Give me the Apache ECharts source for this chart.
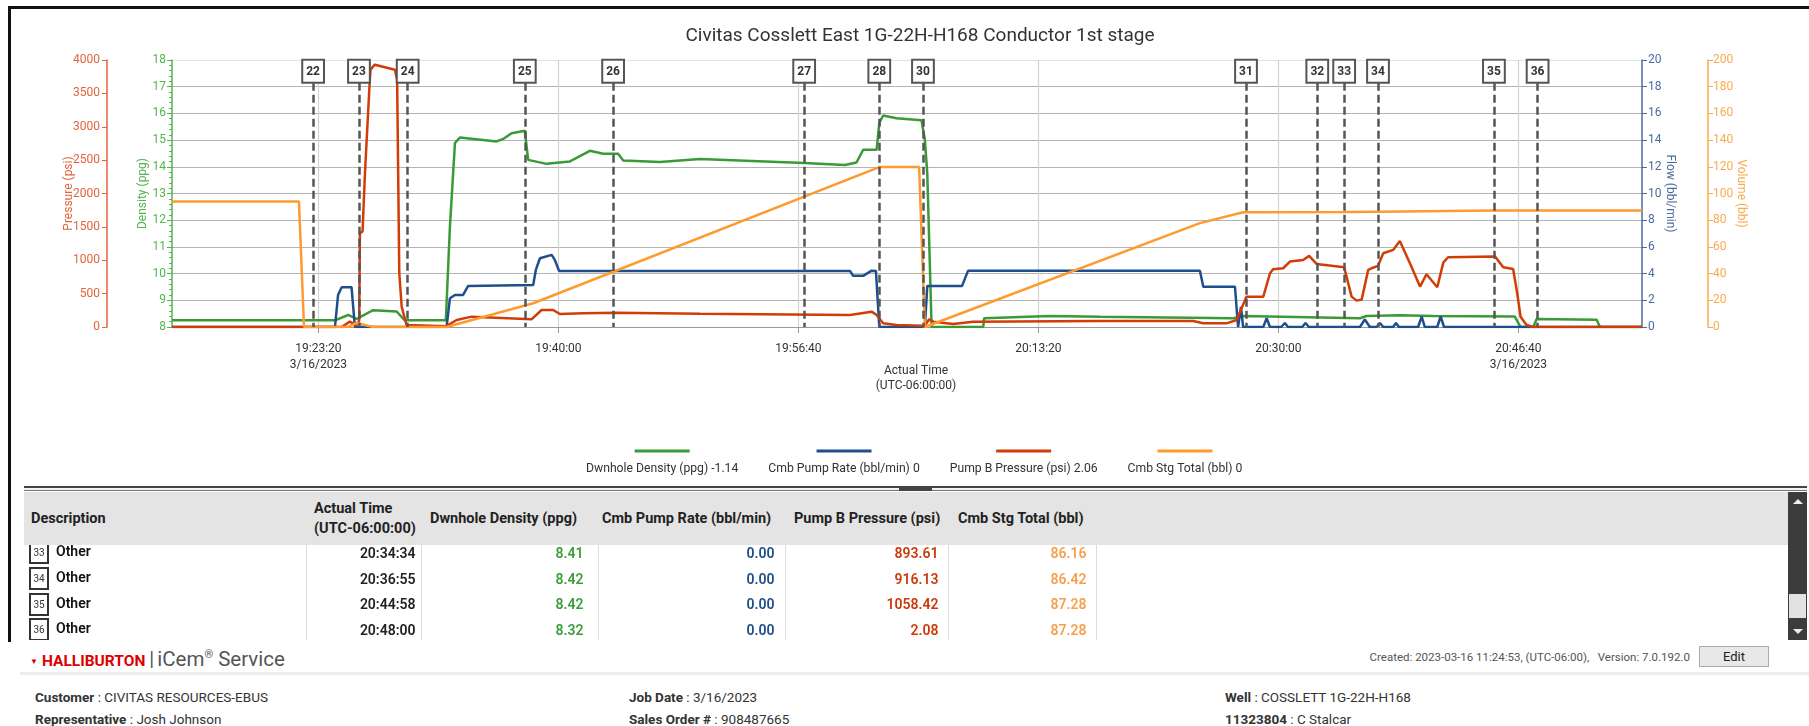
<!DOCTYPE html>
<html>
<head>
<meta charset="utf-8">
<title>Civitas Cosslett East 1G-22H-H168 Conductor 1st stage</title>
<script src="https://cdn.jsdelivr.net/npm/echarts@6/dist/echarts.min.js"></script>
<style>
  body { margin: 0; width: 1809px; height: 726px; overflow: hidden; background: #fff; position: relative;
    font-family: Roboto, 'Noto Sans', sans-serif; color: #222; }
  #chart { position: absolute; left: 0; top: 0; width: 1809px; height: 486px; }
  .frame { position: absolute; left: 8px; top: 6px; width: 1801px; height: 636px; box-sizing: border-box;
    border-top: 3px solid #111; border-left: 3px solid #111; pointer-events: none; }
  .splitter { position: absolute; left: 24px; top: 486px; width: 1783px; height: 5px; box-sizing: border-box;
    border-top: 2px solid #444; border-bottom: 1px solid #777; background: #f2f2f2; }
  .grip { position: absolute; left: 899px; top: 487px; width: 33px; height: 4px; background: #444; }
  .thead { position: absolute; left: 24px; top: 492px; width: 1764px; height: 53px; background: #e4e4e4; }
  .tbody { position: absolute; left: 24px; top: 545px; width: 1764px; height: 95px; overflow: hidden; }
  table { border-collapse: collapse; table-layout: fixed; width: 1764px; }
  th { height: 53px; text-align: left; font-size: 14.5px; font-weight: bold; color: #222; line-height: 20px; padding: 0; white-space: nowrap; }
  .tbody table { margin-top: -5px; }
  td { height: 25.7px; padding: 0; font-size: 14px; font-weight: 600; text-align: right; border-right: 1px solid #dcdce6; white-space: nowrap; }
  td.desc { text-align: left; color: #111; }
  .box { display: inline-block; width: 16px; height: 19px; border: 2px solid #333; font-size: 10px; font-weight: normal;
    text-align: center; line-height: 19px; margin-left: 5px; margin-right: 7px; vertical-align: middle; color: #333; }
  .sb { position: absolute; left: 1788px; top: 492px; width: 19px; height: 148px; background: #3c3c3c; }
  .sb .up { position: absolute; left: 5px; top: 7px; width: 0; height: 0; border-left: 5px solid transparent;
    border-right: 5px solid transparent; border-bottom: 5px solid #eee; }
  .sb .down { position: absolute; left: 5px; top: 137px; width: 0; height: 0; border-left: 5px solid transparent;
    border-right: 5px solid transparent; border-top: 5px solid #eee; }
  .sb .thumb { position: absolute; left: 1px; top: 102px; width: 17px; height: 24px; background: #e2e2e2; }
  .brand { position: absolute; left: 30px; top: 642px; height: 26px; line-height: 26px; white-space: nowrap; }
  .brand .tri { color: #c00; font-size: 8px; vertical-align: middle; margin-right: 4px; }
  .brand .hal { color: #d00; font-weight: bold; font-size: 15.5px; }
  .brand .bar { color: #555; font-size: 20px; margin: 0 3px 0 4px; }
  .brand .icem { color: #555; font-size: 20.5px; }
  .brand sup { font-size: 11px; }
  .created { position: absolute; right: 119px; top: 650px; font-size: 11.5px; color: #555; white-space: nowrap; }
  .edit { position: absolute; left: 1699px; top: 646px; width: 70px; height: 21px; box-sizing: border-box;
    background: #e8e8e8; border: 1px solid #aaa; font-size: 13px; text-align: center; line-height: 19px; color: #222; }
  .rule { position: absolute; left: 20px; top: 672px; width: 1789px; height: 3px; background: #ebebf0; }
  .info { position: absolute; font-size: 13.5px; color: #333; white-space: nowrap; }
  .info b { font-weight: bold; }
</style>
</head>
<body>
<div id="chart"></div>
<div class="frame"></div>
<div class="splitter"></div>
<div class="grip"></div>
<div class="thead">
  <table>
    <colgroup><col style="width:282px"><col style="width:115px"><col style="width:177px"><col style="width:187px"><col style="width:163px"><col style="width:148px"><col></colgroup>
    <tr>
      <th style="padding-left:7px">Description</th>
      <th style="padding-left:8px">Actual Time<br>(UTC-06:00:00)</th>
      <th style="padding-left:9px">Dwnhole Density (ppg)</th>
      <th style="padding-left:4px">Cmb Pump Rate (bbl/min)</th>
      <th style="padding-left:9px">Pump B Pressure (psi)</th>
      <th style="padding-left:10px">Cmb Stg Total (bbl)</th>
      <th></th>
    </tr>
  </table>
</div>
<div class="tbody">
  <table>
    <colgroup><col style="width:282px"><col style="width:115px"><col style="width:177px"><col style="width:187px"><col style="width:163px"><col style="width:148px"><col></colgroup>
    <tbody id="rows"></tbody>
  </table>
</div>
<div class="sb"><div class="up"></div><div class="thumb"></div><div class="down"></div></div>

<div class="brand"><span class="tri">&#9660;</span><span class="hal">HALLIBURTON</span><span class="bar">|</span><span class="icem">iCem<sup>&reg;</sup> Service</span></div>
<div class="created">Created: 2023-03-16 11:24:53, (UTC-06:00),&nbsp;&nbsp;&nbsp;Version: 7.0.192.0</div>
<div class="edit">Edit</div>
<div class="rule"></div>
<div class="info" style="left:35px;top:689px"><b>Customer</b> : CIVITAS RESOURCES-EBUS</div>
<div class="info" style="left:629px;top:689px"><b>Job Date</b> : 3/16/2023</div>
<div class="info" style="left:1225px;top:689px"><b>Well</b> : COSSLETT 1G-22H-H168</div>
<div class="info" style="left:35px;top:711px"><b>Representative</b> : Josh Johnson</div>
<div class="info" style="left:629px;top:711px"><b>Sales Order #</b> : 908487665</div>
<div class="info" style="left:1225px;top:711px"><b>11323804</b> : C Stalcar</div>

<script>
// chart data ([time, value])
const densityData = [
  ['19:13:10', 8.25], ['19:24:29', 8.25], ['19:25:24', 8.45], ['19:25:59', 8.3], ['19:27:08', 8.63],
  ['19:28:46', 8.58], ['19:29:20', 8.25], ['19:32:11', 8.25], ['19:32:28', 11.76], ['19:32:49', 14.89],
  ['19:33:10', 15.1], ['19:35:42', 14.95], ['19:36:10', 15.04], ['19:36:45', 15.26], ['19:37:40', 15.35],
  ['19:37:54', 14.26], ['19:39:11', 14.11], ['19:40:48', 14.2], ['19:42:11', 14.6], ['19:43:07', 14.49],
  ['19:44:09', 14.49], ['19:44:30', 14.24], ['19:47:03', 14.18], ['19:49:50', 14.29], ['19:57:04', 14.14],
  ['19:59:54', 14.07], ['20:00:42', 14.16], ['20:01:10', 14.64], ['20:02:06', 14.64], ['20:02:17', 15.64],
  ['20:02:33', 15.92], ['20:03:29', 15.82], ['20:05:13', 15.74], ['20:05:27', 15.01], ['20:05:37', 13.76],
  ['20:05:55', 8.0], ['20:09:30', 8.0], ['20:09:34', 8.33], ['20:14:08', 8.41], ['20:17:36', 8.38],
  ['20:26:52', 8.33], ['20:27:33', 8.41], ['20:35:40', 8.33], ['20:36:07', 8.41], ['20:38:26', 8.44],
  ['20:40:45', 8.41], ['20:46:25', 8.39], ['20:46:49', 8.0], ['20:47:42', 8.0], ['20:47:56', 8.3],
  ['20:52:06', 8.27], ['20:52:20', 8.0], ['20:55:15', 8.0]
]
const pumpRateData = [
  ['19:13:10', 0], ['19:24:29', 0], ['19:24:42', 2.4], ['19:24:57', 2.98], ['19:25:38', 2.98],
  ['19:25:52', 0], ['19:32:14', 0], ['19:32:28', 2.15], ['19:32:49', 2.4], ['19:33:23', 2.4],
  ['19:33:44', 3.08], ['19:38:15', 3.15], ['19:38:26', 4.28], ['19:38:43', 5.15], ['19:39:32', 5.4],
  ['19:39:45', 5.03], ['19:40:03', 4.2], ['20:00:15', 4.2], ['20:00:28', 3.83], ['20:01:10', 3.83],
  ['20:01:45', 4.22], ['20:02:03', 4.2], ['20:02:17', 0], ['20:05:27', 0], ['20:05:37', 3.08],
  ['20:08:02', 3.08], ['20:08:27', 4.22], ['20:24:33', 4.22], ['20:24:47', 3.02], ['20:26:59', 3.02],
  ['20:27:12', 0], ['20:27:24', 1.5], ['20:27:33', 0], ['20:28:57', 0], ['20:29:11', 0.65],
  ['20:29:25', 0], ['20:30:12', 0], ['20:30:27', 0.3], ['20:30:40', 0], ['20:31:39', 0],
  ['20:31:53', 0.3], ['20:32:07', 0], ['20:35:40', 0], ['20:36:00', 0.57], ['20:36:21', 0],
  ['20:36:49', 0], ['20:37:03', 0.3], ['20:37:17', 0], ['20:37:58', 0], ['20:38:10', 0.3],
  ['20:38:22', 0], ['20:39:42', 0], ['20:39:57', 0.78], ['20:40:10', 0], ['20:41:02', 0],
  ['20:41:16', 0.8], ['20:41:30', 0], ['20:55:15', 0]
]
const pressureData = [
  ['19:13:10', 0], ['19:24:57', 0], ['19:25:31', 80], ['19:25:59', 20], ['19:26:10', 100],
  ['19:26:13', 1405], ['19:26:24', 1430], ['19:26:34', 2305], ['19:26:52', 3555], ['19:26:57', 3855],
  ['19:27:15', 3930], ['19:28:39', 3855], ['19:28:48', 3705], ['19:28:57', 805], ['19:29:07', 305],
  ['19:29:27', 30], ['19:32:11', 10], ['19:32:56', 105], ['19:33:58', 155], ['19:38:08', 115],
  ['19:38:50', 255], ['19:39:38', 255], ['19:40:06', 195], ['19:41:43', 205], ['19:44:02', 215],
  ['19:49:50', 200], ['20:00:15', 180], ['20:01:45', 230], ['20:02:06', 180], ['20:02:33', 55],
  ['20:03:29', 30], ['20:05:13', 20], ['20:05:23', 0], ['20:05:45', 115], ['20:06:02', 80],
  ['20:07:25', 45], ['20:08:48', 80], ['20:17:36', 90], ['20:24:05', 90], ['20:24:47', 55],
  ['20:26:24', 55], ['20:27:06', 105], ['20:27:47', 455], ['20:28:57', 455], ['20:29:25', 805],
  ['20:29:38', 865], ['20:30:20', 880], ['20:30:48', 980], ['20:31:43', 1005], ['20:32:08', 1065],
  ['20:32:39', 945], ['20:34:34', 894], ['20:35:05', 455], ['20:35:26', 395], ['20:35:47', 410],
  ['20:36:14', 855], ['20:36:28', 880], ['20:36:55', 916], ['20:37:17', 1105], ['20:37:58', 1155],
  ['20:38:26', 1290], ['20:39:08', 955], ['20:39:50', 605], ['20:40:17', 790], ['20:41:02', 595],
  ['20:41:27', 965], ['20:41:47', 1045], ['20:45:02', 1058], ['20:45:37', 895], ['20:46:18', 870],
  ['20:46:35', 505], ['20:46:49', 155], ['20:47:14', 30], ['20:47:42', 0], ['20:55:15', 0]
]
const stageTotalData = [
  ['19:13:10', 94], ['19:21:59', 94], ['19:22:20', 0], ['19:25:24', 0], ['19:25:59', 3],
  ['19:27:08', 0], ['19:32:14', 0], ['19:38:15', 17.8], ['20:02:17', 119.8], ['20:05:03', 119.8],
  ['20:05:27', 0], ['20:05:34', 0], ['20:24:33', 77.8], ['20:27:33', 86], ['20:34:34', 86.16],
  ['20:36:55', 86.42], ['20:44:58', 87.28], ['20:55:15', 87.3]
]

// event markers
const eventLabels = ['22', '23', '24', '25', '26', '27', '28', '30', '31', '32', '33', '34', '35', '36']
const eventTimes = ['19:22:58', '19:26:09', '19:29:32', '19:37:40', '19:43:48', '19:57:04', '20:02:17',
  '20:05:19', '20:27:45', '20:32:42', '20:34:34', '20:36:55', '20:44:58', '20:48:00']

// x axis
const timeTicks = ['19:23:20', '19:40:00', '19:56:40', '20:13:20', '20:30:00', '20:46:40']
const timeStart = '19:13:10'
const timeEnd = '20:55:15'
const jobDate = '3/16/2023'

// legend
const seriesNames = ['Dwnhole Density (ppg)', 'Cmb Pump Rate (bbl/min)', 'Pump B Pressure (psi)', 'Cmb Stg Total (bbl)']
const legendValues = ['-1.14', '0', '2.06', '0']

// table rows
const rowEvents = ['33', '34', '35', '36']
const rowDesc = ['Other', 'Other', 'Other', 'Other']
const rowTimes = ['20:34:34', '20:36:55', '20:44:58', '20:48:00']
const rowDensity = ['8.41', '8.42', '8.42', '8.32']
const rowRate = ['0.00', '0.00', '0.00', '0.00']
const rowPressure = ['893.61', '916.13', '1058.42', '2.08']
const rowStage = ['86.16', '86.42', '87.28', '87.28']

const lineColors = ['#3a9a35', '#1f4e8c', '#d23c08', '#ff9a2e']
const axisColors = ['#e2643c', '#55b350', '#4a6c9e', '#f9aa4e'] // pressure, density, flow, volume

function toSec(t) {
  const p = t.split(':').map(Number)
  return p[0] * 3600 + p[1] * 60 + p[2]
}
function fmtTime(s) {
  const h = Math.floor(s / 3600)
  const m = Math.floor((s % 3600) / 60)
  const ss = Math.round(s % 60)
  return h + ':' + String(m).padStart(2, '0') + ':' + String(ss).padStart(2, '0')
}
const toPts = arr => arr.map(d => [toSec(d[0]), d[1]])
const tickSecs = timeTicks.map(toSec)

// table body
const rowsEl = document.getElementById('rows')
rowEvents.forEach((ev, i) => {
  const tr = document.createElement('tr')
  tr.innerHTML =
    '<td class="desc"><span class="box">' + ev + '</span>' + rowDesc[i] + '</td>' +
    '<td style="padding-right:5px;color:#222">' + rowTimes[i] + '</td>' +
    '<td style="padding-right:14px;color:#3b9e3b">' + rowDensity[i] + '</td>' +
    '<td style="padding-right:10px;color:#1f4e8c">' + rowRate[i] + '</td>' +
    '<td style="padding-right:9px;color:#cc3a0a">' + rowPressure[i] + '</td>' +
    '<td style="padding-right:9px;color:#f6a04d">' + rowStage[i] + '</td>' +
    '<td style="border-right:none"></td>'
  rowsEl.appendChild(tr)
})

const chart = echarts.init(document.getElementById('chart'))

function yAxisBase(color) {
  return {
    type: 'value',
    nameLocation: 'middle',
    nameMoveOverlap: false,
    nameTextStyle: { color: color, fontSize: 12 },
    axisLine: { show: true, lineStyle: { color: color, width: 1.5 } },
    axisTick: { show: true, length: 5, lineStyle: { color: color } },
    axisLabel: { color: color, fontSize: 12, margin: 7, formatter: v => String(v) },
    splitLine: { show: false }
  }
}

const markTop = 17.15
const richLegend = { t: { fontSize: 12.2, color: '#333', lineHeight: 32 } }
lineColors.forEach((c, i) => {
  richLegend['l' + i] = { width: 55, height: 3, lineHeight: 3, backgroundColor: c, align: 'center' }
})

chart.setOption({
  animation: false,
  textStyle: { fontFamily: 'Roboto, sans-serif' },
  title: {
    text: 'Civitas Cosslett East 1G-22H-H168 Conductor 1st stage',
    left: 915,
    top: 22,
    textAlign: 'center',
    textStyle: { fontSize: 19, fontWeight: 'normal', color: '#333' }
  },
  legend: {
    data: seriesNames,
    left: 581,
    top: 445,
    padding: 0,
    itemGap: 25,
    itemWidth: 0,
    itemHeight: 35,
    icon: 'none',
    selectedMode: false,
    formatter: name => {
      const i = seriesNames.indexOf(name)
      return '{l' + i + '|}\n{t|' + name + ' ' + legendValues[i] + '}'
    },
    textStyle: { rich: richLegend }
  },
  grid: { left: 172, top: 60, width: 1470, height: 267, outerBoundsMode: 'none' },
  xAxis: {
    type: 'value',
    min: toSec(timeStart),
    max: toSec(timeEnd),
    offset: 6,
    name: 'Actual Time\n(UTC-06:00:00)',
    nameLocation: 'middle',
    nameGap: 30,
    nameMoveOverlap: false,
    nameTextStyle: { color: '#333', fontSize: 12, lineHeight: 15, padding: [0, 0, 0, 18] },
    axisLine: { show: false },
    axisTick: { show: true, length: 6, customValues: tickSecs, lineStyle: { color: '#999' } },
    axisLabel: {
      customValues: tickSecs,
      color: '#333',
      fontSize: 12,
      lineHeight: 16,
      margin: 8,
      formatter: v => {
        const s = fmtTime(v)
        return (v === tickSecs[0] || v === tickSecs[tickSecs.length - 1]) ? s + '\n' + jobDate : s
      }
    },
    splitLine: { show: true, lineStyle: { color: '#d2d2d2', width: 1.2 } }
  },
  yAxis: [
    Object.assign(yAxisBase(axisColors[0]), {
      position: 'left', offset: 65, min: 0, max: 4000, interval: 500,
      name: 'Pressure (psi)', nameGap: 32, nameRotate: 90
    }),
    Object.assign(yAxisBase(axisColors[1]), {
      position: 'left', offset: 0, min: 8, max: 18, interval: 1,
      name: 'Density (ppg)', nameGap: 23, nameRotate: 90,
      minorTick: { show: true, splitNumber: 5, length: 3, lineStyle: { color: axisColors[1] } },
      axisLabel: { color: axisColors[1], fontSize: 12, margin: 6 },
      splitLine: {
        show: true,
        lineStyle: { color: ['#999', '#b4b4b4', '#b4b4b4', '#b4b4b4', '#b4b4b4', '#b4b4b4', '#b4b4b4', '#b4b4b4', '#b4b4b4', '#b4b4b4', '#e2e2e2'], width: 1.2 }
      }
    }),
    Object.assign(yAxisBase(axisColors[2]), {
      position: 'right', offset: 0, min: 0, max: 20, interval: 2,
      name: 'Flow (bbl/min)', nameGap: 22, nameRotate: -90,
      axisLabel: { color: axisColors[2], fontSize: 12, margin: 6 }
    }),
    Object.assign(yAxisBase(axisColors[3]), {
      position: 'right', offset: 66, min: 0, max: 200, interval: 20,
      name: 'Volume (bbl)', nameGap: 27, nameRotate: -90,
      axisLabel: { color: axisColors[3], fontSize: 12, margin: 5 }
    })
  ],
  series: [
    {
      name: seriesNames[0], type: 'line', yAxisIndex: 1, data: toPts(densityData),
      showSymbol: false, symbol: 'none', color: lineColors[0], lineStyle: { width: 2.5 },
      markLine: {
        silent: true,
        symbol: ['none', 'none'],
        lineStyle: { color: '#555', type: [8, 4], width: 2.5 },
        label: {
          show: true, position: 'start', distance: 1, formatter: '{b}',
          color: '#333', fontSize: 12, fontWeight: 'bold', lineHeight: 14,
          backgroundColor: '#fff', borderColor: '#555', borderWidth: 2, padding: [4, 3, 3, 3]
        },
        data: eventLabels.map((lab, i) => [
          { name: lab, coord: [toSec(eventTimes[i]), markTop] },
          { coord: [toSec(eventTimes[i]), 8] }
        ])
      }
    },
    {
      name: seriesNames[1], type: 'line', yAxisIndex: 2, data: toPts(pumpRateData),
      showSymbol: false, symbol: 'none', color: lineColors[1], lineStyle: { width: 2.5 }
    },
    {
      name: seriesNames[2], type: 'line', yAxisIndex: 0, data: toPts(pressureData),
      showSymbol: false, symbol: 'none', color: lineColors[2], lineStyle: { width: 2.5 }
    },
    {
      name: seriesNames[3], type: 'line', yAxisIndex: 3, data: toPts(stageTotalData),
      showSymbol: false, symbol: 'none', color: lineColors[3], lineStyle: { width: 2.5 }
    }
  ]
})
</script>
</body>
</html>
